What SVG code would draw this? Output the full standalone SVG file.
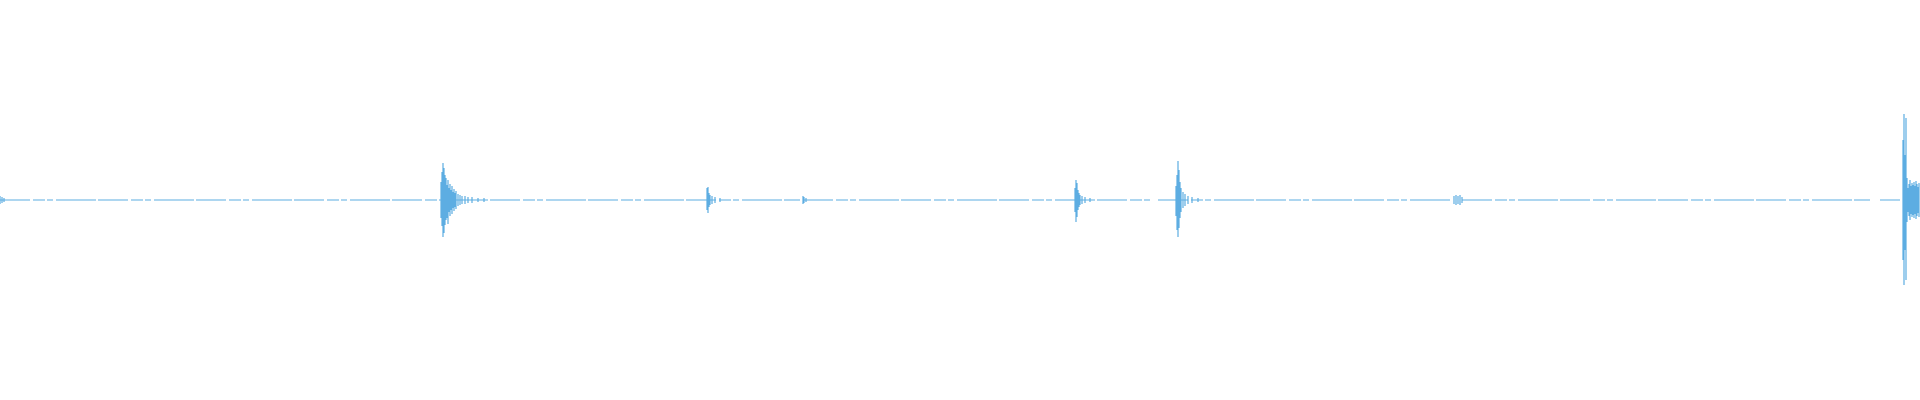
<svg xmlns="http://www.w3.org/2000/svg" width="1920" height="400" viewBox="0 0 1920 400">
<style>.w{stroke:#5DADE2;fill:none;stroke-width:1.2}</style>
<rect width="1920" height="400" fill="#fff"/>
<g id="waveform">
<path class="w" stroke-width="1.5" d="M0 200H800M803 200H1150M1158 200H1450M1462 200H1870M1880 200H1900" stroke-dasharray="30 3 12 2 6 3 40 2"/>
<path class="w" d="M0 196V204M2 197V203M4 198V202
M441 182V218M442 172V226M443 163V237M444 168V233M445 175V225M446 178V220M447 185V218M448 180V224M449 188V212M450 184V216M451 190V210M452 186V214M453 192V208M454 189V211M455 193V207M456 191V209M458 194V206M460 195V205M462 196V204M465 196V204M468 197V203M472 197V203M478 198V202M484 198V202
M707 188V210M708 187V213M709 193V207M710 195V205M712 196V204M715 197V203M720 198V202
M803 196V204M804 197V203M806 198V202
M1075 188V212M1076 180V222M1077 183V217M1078 190V210M1079 193V207M1080 195V205M1082 196V204M1085 197V203M1090 198V202
M1176 186V216M1177 175V230M1178 161V237M1179 170V228M1180 182V218M1181 188V212M1183 192V208M1185 194V206M1188 196V204M1192 197V203M1198 198V202
M1454 196V204M1456 195V205M1458 196V204M1460 195V205M1462 197V203
M1903 140V260M1904 114V285M1905 155V250M1906 118V280M1907 178V222M1908 188V212M1909 184V216M1910 180V220M1911 186V214M1912 183V217M1913 185V215M1914 182V218M1915 186V214M1916 181V219M1917 184V216M1918 187V213M1919 183V217"/>
</g>
</svg>
